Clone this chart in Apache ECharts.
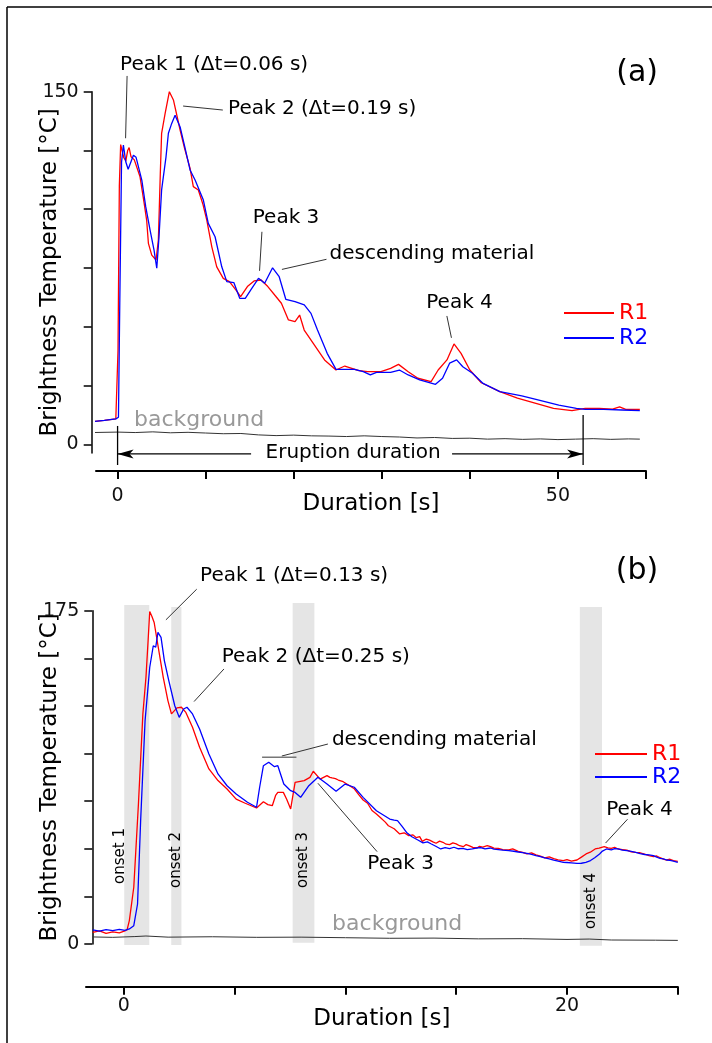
<!DOCTYPE html>
<html><head><meta charset="utf-8">
<script src="https://cdn.jsdelivr.net/npm/echarts@6/dist/echarts.min.js"></script>
<style>html,body{margin:0;padding:0;background:#fff}#c{width:712px;height:1043px}</style>
</head><body><div id="c"></div><script>
// ---------- DATA ----------
// Panel (a): time [s], brightness temperature [°C]
const R1a = [[-2.9,9.6],[-1.5,10.2],[-0.2,10.8],[0.05,40],[0.2,110],[0.35,127.5],[0.5,127.7],[0.7,122],[0.93,120.5],[1.15,125],[1.31,126.2],[1.53,122.3],[1.9,121],[2.55,113.8],[3.0,103],[3.3,95.4],[3.5,85.5],[3.88,80.5],[4.37,78.4],[4.63,86.9],[4.85,115],[5.0,132.3],[5.4,140.8],[5.88,150],[6.34,146.5],[7.1,133.7],[7.6,126],[8.23,117.4],[8.6,109.6],[9.17,108.2],[9.7,102],[10.13,95.4],[10.7,84],[11.26,75.5],[12.0,70.6],[12.7,69.2],[13.45,65.6],[13.97,62.8],[14.74,67.1],[15.5,69.5],[16.3,69.9],[17.06,67.1],[17.84,63.5],[18.6,60.0],[19.4,52.9],[20.15,52.2],[20.67,55.0],[21.19,48.6],[22.2,43.0],[23.5,35.9],[24.8,31.6],[25.8,33.3],[27.4,31.3],[28.4,30.9],[29.9,30.9],[31.0,32.3],[31.9,34.0],[33.0,30.9],[34.1,28.1],[35.6,26.7],[36.4,31.6],[37.4,35.9],[38.2,42.7],[39.0,38.7],[40.0,31.6],[41.3,26.2],[43.4,22.4],[45.4,19.6],[47.5,17.4],[49.5,15.3],[51.6,14.3],[53.1,15.3],[54.7,15.3],[56.2,15.0],[57.0,15.9],[57.7,14.9],[59.3,14.9]];
const R2a = [[-2.9,9.6],[-1.5,10.2],[-0.2,10.8],[0.1,11.5],[0.25,60],[0.45,120],[0.66,127.3],[0.93,120.2],[1.2,117],[1.42,116.7],[1.8,123],[2.1,122.1],[2.75,112.4],[3.2,101],[3.69,91.1],[4.14,82.6],[4.45,74.9],[4.7,88],[5.0,108.2],[5.5,122.3],[5.77,132.3],[6.1,136],[6.53,140],[7.1,135],[7.6,127],[8.23,116.7],[8.8,112.4],[9.74,103.9],[10.3,94],[11.07,88.3],[11.83,75.5],[12.4,69.2],[13.2,68.8],[13.87,62.1],[14.5,62.1],[15.26,66.4],[16.0,70.6],[16.7,68.5],[17.6,75.1],[18.35,71.3],[19.1,61.7],[20.15,60.7],[21.2,59.3],[21.96,55.7],[22.7,48.6],[23.8,38.7],[24.8,31.9],[26.9,31.9],[27.9,30.9],[28.7,29.5],[29.4,30.6],[31.0,30.6],[32.0,31.6],[33.0,29.5],[34.3,27.4],[36.1,25.5],[36.9,28.1],[37.7,34.5],[38.5,35.9],[39.2,33.0],[40.3,30.2],[41.5,25.9],[43.4,22.4],[45.9,20.6],[47.5,19.1],[50.1,16.7],[52.1,15.3],[53.1,14.9],[55.2,14.9],[57.3,14.6],[59.3,14.3]];
const BGa = [[-2.9,5.0],[0,5.2],[2,5.0],[4,5.3],[6,4.9],[8,5.1],[10,4.8],[12,4.5],[14,4.6],[16,4.0],[18,3.7],[20,3.9],[22,3.6],[24,3.5],[26,3.3],[28,3.6],[30,3.3],[32,3.1],[34,2.7],[36,2.9],[38,2.5],[40,2.6],[42,2.2],[44,2.4],[46,2.1],[48,2.3],[50,2.0],[52,2.2],[54,2.4],[56,2.1],[58,2.3],[59.3,2.2]];
// Panel (b)
const R1b = [[-1.4,6.1],[-1.1,6.9],[-0.8,5.6],[-0.5,6.4],[-0.2,5.8],[0.05,6.9],[0.15,7.5],[0.25,12.3],[0.45,29.8],[0.66,73.5],[0.86,120.7],[1.0,140],[1.1,160],[1.17,174.6],[1.27,172],[1.37,168.8],[1.58,154],[1.78,140],[1.99,127.8],[2.15,120.8],[2.4,124],[2.6,124.3],[2.8,121.6],[3.1,113.8],[3.42,103.3],[3.84,91.9],[4.25,85.8],[4.66,81.4],[5.07,76.1],[5.48,73.9],[5.99,71.4],[6.3,74.7],[6.5,73.2],[6.7,72.6],[6.85,78],[6.95,79.6],[7.2,79.6],[7.35,76],[7.53,70.9],[7.73,84.9],[8.14,85.8],[8.4,87.5],[8.55,90.7],[8.86,86.6],[9.17,88.4],[9.3,87.5],[9.4,87.2],[9.55,86.8],[9.68,86.1],[9.9,85.2],[10.19,83.1],[10.4,81.5],[10.6,78.4],[10.8,75.6],[11.0,73.9],[11.2,70.1],[11.4,68.3],[11.6,66.2],[11.8,64.0],[11.94,62.1],[12.2,60.5],[12.45,57.8],[12.65,58.4],[12.86,56.9],[13.05,57.3],[13.2,55.8],[13.35,56.4],[13.47,53.9],[13.65,55.1],[13.8,54.5],[13.95,53.6],[14.09,52.9],[14.25,54.0],[14.4,53.4],[14.55,52.4],[14.7,52.2],[14.85,53.1],[15.0,52.6],[15.15,51.6],[15.32,51.1],[15.45,52.2],[15.6,51.5],[15.75,50.7],[15.94,50.4],[16.05,51.3],[16.2,50.9],[16.4,51.6],[16.55,51.1],[16.7,50.3],[16.9,50.2],[17.1,49.6],[17.37,49.4],[17.55,49.9],[17.8,48.6],[18.0,48.1],[18.19,47.3],[18.4,47.8],[18.6,46.8],[18.8,46.1],[19.0,45.2],[19.2,45.7],[19.4,44.8],[19.6,44.2],[19.83,43.8],[20.0,44.3],[20.2,43.5],[20.45,44.1],[20.65,45.6],[20.86,47.3],[21.05,48.2],[21.27,49.9],[21.45,50.3],[21.68,51.1],[21.85,50.5],[22.0,50.2],[22.15,50.8],[22.3,49.9],[22.5,49.6],[22.7,49.3],[22.9,48.4],[23.1,48.1],[23.3,47.9],[23.5,47.2],[23.7,46.4],[23.9,45.9],[24.05,46.2],[24.2,45.3],[24.35,44.6],[24.5,44.1],[24.65,44.5],[24.8,43.8],[25,43.4]];
const R2b = [[-1.4,7.4],[-1.1,6.8],[-0.8,7.6],[-0.5,7.0],[-0.2,7.7],[0.05,7.2],[0.25,7.9],[0.45,9.6],[0.62,21],[0.76,64.8],[0.96,117.3],[1.17,145.3],[1.33,156.6],[1.44,155.8],[1.54,163.6],[1.68,161],[1.83,148.8],[2.03,138.3],[2.3,125.1],[2.5,119],[2.7,123.4],[2.85,124.3],[3.1,120.8],[3.42,112.9],[3.84,99.8],[4.25,89.3],[4.66,83.1],[5.07,78.8],[5.58,74.4],[5.99,71.8],[6.13,82.3],[6.3,93.6],[6.54,95.4],[6.8,93.1],[6.95,93.6],[7.22,84],[7.53,80.5],[7.73,79.6],[7.98,77],[8.35,83.1],[8.76,87.5],[9.17,84],[9.58,80.2],[9.99,84],[10.4,82.3],[10.8,77],[11.4,70],[12.0,65.6],[12.2,65.0],[12.35,64.8],[12.55,61.9],[12.76,58.6],[13.0,56.3],[13.27,54.6],[13.5,53.1],[13.7,53.6],[13.88,52.5],[14.1,51.2],[14.3,49.9],[14.5,50.6],[14.7,50.1],[14.9,50.8],[15.1,50.0],[15.3,50.2],[15.5,49.5],[15.73,49.9],[15.9,50.4],[16.1,50.6],[16.3,49.9],[16.55,50.4],[16.7,49.8],[16.9,49.6],[17.1,49.3],[17.37,49],[17.6,48.7],[17.8,48.3],[18.0,48.0],[18.19,47.6],[18.4,47.0],[18.6,46.4],[18.8,45.9],[19.0,45.2],[19.2,44.7],[19.4,44.0],[19.6,43.5],[19.83,42.9],[20.0,42.8],[20.2,42.6],[20.45,42.3],[20.65,42.4],[20.85,42.9],[21.06,43.8],[21.25,45.3],[21.47,47.3],[21.6,48.8],[21.78,49.9],[22.0,49.4],[22.15,50.1],[22.3,49.9],[22.5,49.3],[22.7,49.0],[22.9,48.6],[23.1,48.1],[23.3,47.4],[23.5,47.0],[23.7,46.8],[23.9,46.4],[24.05,45.6],[24.2,45.0],[24.35,44.7],[24.5,44.1],[24.65,43.9],[24.8,43.5],[25,42.9]];
const BGb = [[-1.4,3.7],[-0.5,3.5],[0.5,3.9],[1,4.2],[2,3.6],[4,3.8],[6,3.5],[8,3.6],[10,3.3],[12,3.0],[14,3.1],[16,2.7],[18,2.8],[20,2.4],[21,2.6],[22,2.1],[24,2.0],[25,1.9]];
// onset bands (b): [start s, end s, top °C, bottom °C]
const onsetBands = [[0.02,1.15,178,-0.5],[2.14,2.60,177,-0.5],[7.62,8.60,179,0.7],[20.58,21.58,177,-0.9]];
const onsetNames = ['onset 1','onset 2','onset 3','onset 4'];
// ticks / labels
const xTicksA = [0,10,20,30,40,50,60], xLabelsA = [0,50];
const yTicksA = [0,25,50,75,100,125,150], yLabelsA = [0,150];
const xTicksB = [0,5,10,15,20,25], xLabelsB = [0,20];
const yTicksB = [0,25,50,75,100,125,150,175], yLabelsB = [0,175];
const eruptionDuration = [0, 52.86];

// ---------- CHART ----------
const FONT = 'DejaVu Sans';
const chart = echarts.init(document.getElementById('c'));
function xAx(g, min, max, ticks, labels, offset, margin, gap){
  return {type:'value', gridIndex:g, min, max, offset, splitLine:{show:false},
    name:'Duration [s]', nameLocation:'middle', nameGap:gap, nameMoveOverlap:false,
    nameTextStyle:{fontFamily:FONT, fontSize:23, color:'#000', verticalAlign:'middle'},
    axisLine:{onZero:false, lineStyle:{color:'#000', width:2}},
    axisTick:{length:8, customValues:ticks, lineStyle:{color:'#000', width:2}},
    axisLabel:{customValues:labels, fontFamily:FONT, fontSize:19, color:'#111', margin:margin}};
}
function yAx(g, min, max, ticks, labels, offset){
  return {type:'value', gridIndex:g, min, max, offset, splitLine:{show:false},
    name:'Brightness Temperature [°C]', nameLocation:'middle', nameGap:42, nameMoveOverlap:false,
    nameTextStyle:{fontFamily:FONT, fontSize:23, color:'#000', verticalAlign:'middle'},
    axisLine:{onZero:false, lineStyle:{color:'#000', width:1.5}},
    axisTick:{length:8, customValues:ticks, lineStyle:{color:'#000', width:1.5}},
    axisLabel:{customValues:labels, fontFamily:FONT, fontSize:19, color:'#111', margin:13}};
}
const lineS = (name, data, color, xi, w) => ({
  name, type:'line', data, xAxisIndex:xi, yAxisIndex:xi, showSymbol:false, symbol:'none',
  clip:false, silent:true, lineStyle:{color, width:w||1.3}, itemStyle:{color}, z:3
});
const option = {
  animation:false, backgroundColor:'#fff',
  textStyle:{fontFamily:FONT},
  grid:[{left:96, top:91.7, width:550, height:361.3},{left:86, top:610.7, width:591.8, height:333.3}],
  xAxis:[xAx(0,-2.45,60,xTicksA,xLabelsA,18,16,33), xAx(1,-1.706,25,xTicksB,xLabelsB,42.7,10,32.5)],
  yAxis:[yAx(0,-3.7,150,yTicksA,yLabelsA,4.3), yAx(1,0,175,yTicksB,yLabelsB,-6.3)],
  legend:[
    {data:[{name:'R1',textStyle:{color:'#ff0000'}},{name:'R2',textStyle:{color:'#0000ff'}}],
     left:559, top:297, orient:'vertical', itemWidth:50, itemHeight:2, icon:'rect', itemGap:3,
     selectedMode:false, textStyle:{fontFamily:FONT, fontSize:22}},
    {data:[{name:'R1',textStyle:{color:'#ff0000'}},{name:'R2',textStyle:{color:'#0000ff'}}],
     left:590, top:738, orient:'vertical', itemWidth:52, itemHeight:2, icon:'rect', itemGap:1,
     selectedMode:false, textStyle:{fontFamily:FONT, fontSize:22}}
  ],
  series:[
    {type:'custom', name:'onsets', xAxisIndex:1, yAxisIndex:1, data:onsetBands, silent:true, z:1,
     encode:{x:[0,1], y:[2,3]}, clip:false,
     renderItem:(p, api) => {
       const a = api.coord([api.value(0), api.value(2)]);
       const b = api.coord([api.value(1), api.value(3)]);
       return {type:'rect', shape:{x:a[0], y:a[1], width:b[0]-a[0], height:b[1]-a[1]}, style:{fill:'#e5e5e5'}};
     }},
    lineS('background', BGa, '#333', 0, 1),
    lineS('R1', R1a, '#ff0000', 0),
    lineS('R2', R2a, '#0000ff', 0),
    lineS('background', BGb, '#333', 1, 1),
    lineS('R1', R1b, '#ff0000', 1),
    lineS('R2', R2b, '#0000ff', 1)
  ]
};
chart.setOption(option);

// ---------- ANNOTATIONS (data coordinates) ----------
const annot = [
  {g:0, t:'Peak 1 (Δt=0.06 s)', at:[10.96,161.3], al:'center', ln:[[1.08,156.7],[0.91,130.2]]},
  {g:0, t:'Peak 2 (Δt=0.19 s)', at:[12.55,142.6], al:'left', ln:[[7.44,143.9],[11.95,142.2]]},
  {g:0, t:'Peak 3', at:[19.13,96.4], al:'center', ln:[[16.39,90.4],[16.12,73.8]]},
  {g:0, t:'descending material', at:[24.07,80.95], al:'left', ln:[[18.66,74.4],[23.72,78.7]]},
  {g:0, t:'Peak 4', at:[38.83,60.2], al:'center', ln:[[37.39,54.6],[37.91,45.3]]},
  {g:1, t:'Peak 1 (Δt=0.13 s)', at:[3.44,193.3], al:'left', ln:[[3.29,186.3],[1.9,170.2]]},
  {g:1, t:'Peak 2 (Δt=0.25 s)', at:[4.42,150.6], al:'left', ln:[[4.52,144.4],[3.17,127.3]]},
  {g:1, t:'descending material', at:[9.39,107.1], al:'left', ln:[[9.21,105],[7.13,98.7]]},
  {g:1, t:'Peak 3', at:[12.49,42.0], al:'center', ln:[[11.43,48.5],[8.76,84.4]]},
  {g:1, t:'Peak 4', at:[23.27,70.7], al:'center', ln:[[22.73,65.5],[21.74,53.0]]}
];
const P = (g, p) => chart.convertToPixel({gridIndex:g}, p);
const gfx = [];
const txt = (x, y, t, size, color, align, rot) => gfx.push({type:'text', x, y, rotation:rot||0, silent:true, z:10,
  style:{text:t, fontFamily:FONT, fontSize:size, fill:color, align:align||'center', verticalAlign:'middle', textAlign:align||'center', textVerticalAlign:'middle'}});
const seg = (a, b, color, w) => gfx.push({type:'line', silent:true, z:10, shape:{x1:a[0], y1:a[1], x2:b[0], y2:b[1]}, style:{stroke:color, lineWidth:w}});
annot.forEach(a => {
  const p = P(a.g, a.at); txt(p[0], p[1], a.t, 20, '#000', a.al);
  seg(P(a.g, a.ln[0]), P(a.g, a.ln[1]), '#333', 1);
});
// descending material bar (b)
seg(P(1,[6.24,98.1]), P(1,[7.79,98.1]), '#777', 1.5);
// panel letters
let p = P(0,[58.99,157.9]); txt(p[0], p[1], '(a)', 30, '#000');
p = P(1,[23.16,195.5]); txt(p[0], p[1], '(b)', 30, '#000');
// background labels
p = P(0,[1.87,10.3]); txt(p[0], p[1], 'background', 22, '#999', 'left');
p = P(1,[9.4,10.5]); txt(p[0], p[1], 'background', 22, '#999', 'left');
// onset labels
const onsetPos = [[-0.17,46.2],[2.37,44.1],[8.11,44.1],[21.08,22.6]];
onsetNames.forEach((n,i) => { const q = P(1, onsetPos[i]); txt(q[0], q[1], n, 15, '#000', 'center', Math.PI/2); });
// eruption duration
const e0 = P(0,[eruptionDuration[0],-4.1]), e1 = P(0,[eruptionDuration[1],-4.1]);
seg(P(0,[eruptionDuration[0],7.8]), P(0,[eruptionDuration[0],-8.8]), '#000', 1.3);
seg(P(0,[eruptionDuration[1],12.5]), P(0,[eruptionDuration[1],-8.8]), '#000', 1.3);
seg(e0, P(0,[15.16,-4.1]), '#000', 1.2);
seg(P(0,[37.98,-4.1]), e1, '#000', 1.2);
gfx.push({type:'polygon', silent:true, z:10, shape:{points:[[e0[0],e0[1]],[e0[0]+16,e0[1]-4.5],[e0[0]+12,e0[1]],[e0[0]+16,e0[1]+4.5]]}, style:{fill:'#000'}});
gfx.push({type:'polygon', silent:true, z:10, shape:{points:[[e1[0],e1[1]],[e1[0]-16,e1[1]-4.5],[e1[0]-12,e1[1]],[e1[0]-16,e1[1]+4.5]]}, style:{fill:'#000'}});
p = P(0,[26.74,-3.8]); txt(p[0], p[1], 'Eruption duration', 20, '#000');
// frame
gfx.push({type:'line', silent:true, shape:{x1:7, y1:7, x2:712, y2:7}, style:{stroke:'#000', lineWidth:1.5}});
gfx.push({type:'line', silent:true, shape:{x1:7, y1:7, x2:7, y2:1043}, style:{stroke:'#000', lineWidth:1.5}});
chart.setOption({graphic:{elements:gfx}});
</script></body></html>
